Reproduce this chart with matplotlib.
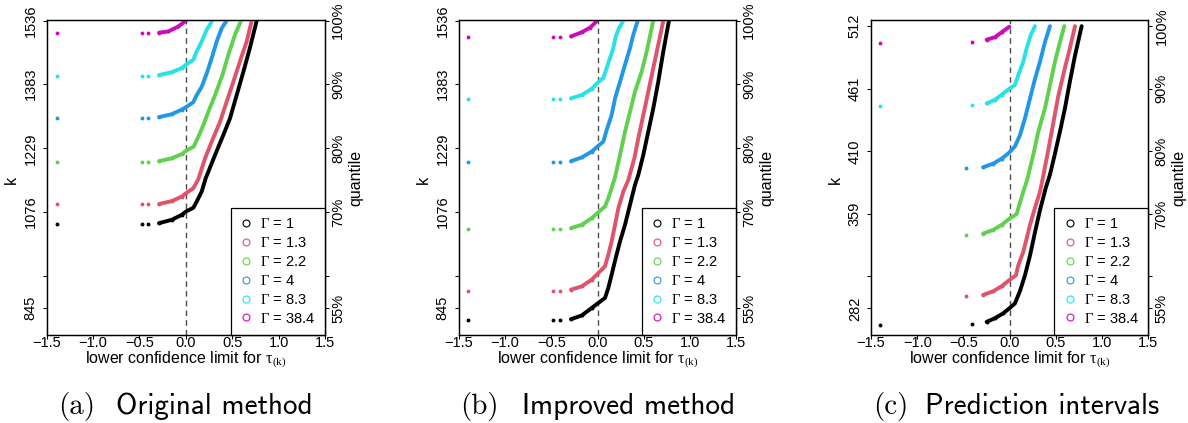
"""Three panels: lower confidence limit for tau_(k) against k, for several Gamma."""

import matplotlib
matplotlib.use("Agg")
import matplotlib.pyplot as plt
from matplotlib.lines import Line2D

plt.rcParams["font.family"] = ["Liberation Sans", "DejaVu Sans"]
plt.rcParams["mathtext.fontset"] = "custom"
plt.rcParams["mathtext.rm"] = "Liberation Serif"
plt.rcParams["mathtext.it"] = "Liberation Serif:italic"
plt.rcParams["mathtext.default"] = "rm"

# ---- data ----
gamma_labels = ["1", "1.3", "2.2", "4", "8.3", "38.4"]

# (a) original method, n = 1536
orig_x = [
    [-0.289, -0.152, -0.044, 0.002, 0.081, 0.117, 0.171, 0.214, 0.315, 0.404, 0.476, 0.548, 0.62, 0.69, 0.764],
    [-0.289, -0.152, -0.044, 0.002, 0.081, 0.135, 0.207, 0.279, 0.369, 0.44, 0.512, 0.595, 0.656, 0.71],
    [-0.289, -0.152, -0.044, 0.002, 0.085, 0.135, 0.189, 0.243, 0.315, 0.394, 0.458, 0.53, 0.595],
    [-0.289, -0.152, -0.044, 0.01, 0.081, 0.117, 0.171, 0.225, 0.279, 0.333, 0.387, 0.44],
    [-0.289, -0.152, -0.044, 0.002, 0.081, 0.117, 0.171, 0.225, 0.286],
    [-0.289, -0.188, -0.08, 0.002],
]
orig_k = [
    [1049, 1057, 1069, 1077, 1086, 1101, 1125, 1157, 1213, 1261, 1301, 1357, 1413, 1470, 1536],
    [1095, 1102, 1113, 1121, 1133, 1155, 1205, 1245, 1293, 1341, 1389, 1446, 1486, 1536],
    [1198, 1205, 1215, 1223, 1233, 1257, 1285, 1317, 1357, 1405, 1454, 1502, 1536],
    [1304, 1311, 1322, 1329, 1340, 1357, 1377, 1409, 1446, 1486, 1518, 1536],
    [1405, 1412, 1422, 1430, 1442, 1462, 1486, 1514, 1536],
    [1507, 1510, 1522, 1536],
]
orig_iso_x = [
    [-1.39, -0.475, -0.404],
    [-1.39, -0.475, -0.404],
    [-1.39, -0.475, -0.404],
    [-1.39, -0.475, -0.404],
    [-1.39, -0.475, -0.404],
    [-1.39, -0.475, -0.404],
]
orig_iso_k = [
    [1048, 1048, 1048],
    [1094, 1094, 1094],
    [1196, 1196, 1196],
    [1302, 1302, 1302],
    [1404, 1404, 1404],
    [1506, 1506, 1506],
]

# (b) improved method, n = 1536
impr_x = [
    [-0.287, -0.171, -0.063, 0.009, 0.081, 0.117, 0.153, 0.197, 0.244, 0.298, 0.352, 0.406, 0.442, 0.496, 0.55, 0.604, 0.658, 0.713, 0.774],
    [-0.287, -0.171, -0.063, 0.009, 0.081, 0.117, 0.153, 0.19, 0.226, 0.28, 0.334, 0.399, 0.442, 0.496, 0.55, 0.604, 0.658, 0.713],
    [-0.287, -0.171, -0.063, -0.002, 0.081, 0.117, 0.153, 0.19, 0.244, 0.298, 0.352, 0.406, 0.478, 0.533, 0.579, 0.604],
    [-0.287, -0.171, -0.063, 0.009, 0.063, 0.099, 0.153, 0.19, 0.244, 0.298, 0.352, 0.388, 0.435],
    [-0.287, -0.171, -0.063, -0.002, 0.063, 0.099, 0.135, 0.171, 0.197, 0.233, 0.28],
    [-0.287, -0.171, -0.081, -0.002],
]
impr_k = [
    [818, 827, 845, 857, 869, 893, 925, 965, 1005, 1045, 1093, 1141, 1165, 1213, 1269, 1325, 1389, 1462, 1536],
    [889, 897, 913, 929, 945, 973, 1005, 1045, 1085, 1125, 1153, 1205, 1253, 1309, 1365, 1422, 1478, 1536],
    [1037, 1045, 1061, 1073, 1089, 1109, 1133, 1160, 1213, 1269, 1317, 1365, 1413, 1462, 1510, 1536],
    [1198, 1207, 1221, 1235, 1245, 1273, 1309, 1349, 1389, 1430, 1470, 1502, 1536],
    [1349, 1357, 1372, 1386, 1398, 1422, 1446, 1470, 1498, 1518, 1536],
    [1498, 1508, 1519, 1536],
]
impr_iso_x = [
    [-1.40, -0.479, -0.406],
    [-1.40, -0.479, -0.406],
    [-1.40, -0.479, -0.406],
    [-1.40, -0.479, -0.406],
    [-1.40, -0.479, -0.406],
    [-1.40, -0.479, -0.406],
]
impr_iso_k = [
    [815, 816, 816],
    [886, 886, 886],
    [1034, 1035, 1035],
    [1196, 1197, 1197],
    [1347, 1348, 1348],
    [1496, 1496, 1496],
]

# (c) prediction intervals, n = 512
pred_x = [
    [-0.249, -0.159, -0.069, -0.004, 0.057, 0.111, 0.166, 0.22, 0.274, 0.328, 0.39, 0.436, 0.49, 0.544, 0.598, 0.652, 0.707, 0.779],
    [-0.286, -0.177, -0.087, -0.004, 0.068, 0.093, 0.147, 0.184, 0.22, 0.274, 0.328, 0.364, 0.418, 0.472, 0.526, 0.598, 0.652, 0.707],
    [-0.286, -0.177, -0.087, -0.004, 0.076, 0.111, 0.147, 0.19, 0.255, 0.31, 0.382, 0.436, 0.49, 0.544, 0.591],
    [-0.286, -0.177, -0.087, -0.004, 0.057, 0.111, 0.166, 0.22, 0.274, 0.328, 0.382, 0.436],
    [-0.249, -0.159, -0.087, -0.004, 0.057, 0.093, 0.147, 0.184, 0.23, 0.274],
    [-0.249, -0.159, -0.087, -0.004],
]
pred_k = [
    [271, 274, 278, 282, 286, 296, 309, 325, 344, 362, 380, 391, 408, 426, 445, 467, 488, 512],
    [293, 296, 300, 305, 309, 317, 328, 339, 350, 364, 377, 390, 411, 433, 455, 478, 494, 512],
    [343, 346, 350, 355, 359, 368, 377, 387, 407, 426, 445, 464, 483, 499, 512],
    [397, 400, 404, 409, 414, 423, 437, 453, 469, 483, 499, 512],
    [449, 452, 456, 461, 464, 472, 483, 494, 505, 512],
    [501, 503, 507, 511.5],
]
pred_iso_x = [
    [-1.40, -0.405],
    [-0.473],
    [-0.473],
    [-0.473],
    [-1.40, -0.405],
    [-1.40, -0.405],
]
pred_iso_k = [
    [268.5, 269],
    [292],
    [342],
    [396],
    [447, 448],
    [498, 499],
]

big_ticks = [845, 922, 1076, 1229, 1383, 1536]
big_tick_labels = ["845", "", "1076", "1229", "1383", "1536"]
small_ticks = [282, 308, 359, 410, 461, 512]
small_tick_labels = ["282", "", "359", "410", "461", "512"]
quantile_labels = ["55%", "", "70%", "80%", "90%", "100%"]
x_ticks = [-1.5, -1.0, -0.5, 0.0, 0.5, 1.0, 1.5]

# ---- styles ----
colors = ["#000000", "#DF536B", "#61D04F", "#2297E6", "#28E2E5", "#CD0BBC"]
W, H = 1188, 423


def draw_panel(rect, curve_x, curve_k, iso_x, iso_k, ticks, tick_labels, ylim):
    ax = fig.add_axes(rect)
    ax.axvline(0, color="0.3", lw=1.0, ls=(0, (4, 3)), zorder=1)
    for cx, ck, ix, ik, col in zip(curve_x, curve_k, iso_x, iso_k, colors):
        ax.plot(cx, ck, color=col, lw=2.8, solid_capstyle="round", zorder=3)
        ax.plot(cx[:3], ck[:3], "o", color=col, ms=2.8, mew=0, zorder=3)
        ax.plot(ix, ik, "o", color=col, ms=2.8, mew=0, zorder=3)
    ax.set_xlim(-1.5, 1.5)
    ax.set_ylim(*ylim)
    ax.set_xticks(x_ticks)
    ax.set_xticklabels([f"{v:.1f}".replace("-", "\u2212") for v in x_ticks])
    ax.set_yticks(ticks)
    ax.set_yticklabels(tick_labels, rotation=90, va="center")
    ax.tick_params(axis="x", direction="out", length=3, width=0.75, pad=-2.3, labelsize=10.5)
    ax.tick_params(axis="y", direction="out", length=3, width=0.75, pad=3.6, labelsize=10.5)
    for s in ax.spines.values():
        s.set_linewidth(0.9)

    rax = ax.twinx()
    rax.set_ylim(*ylim)
    rax.set_yticks(ticks)
    rax.set_yticklabels(quantile_labels, rotation=90, va="center")
    rax.tick_params(axis="y", direction="out", length=3, width=0.75, pad=1.5, labelsize=10.5)
    for s in rax.spines.values():
        s.set_linewidth(0.9)

    ax.text(0.5, -0.078, r"lower confidence limit for $\tau_{(k)}$", transform=ax.transAxes,
            ha="center", va="center", fontsize=11.5)
    ax.text(-0.127, 0.492, "k", transform=ax.transAxes, rotation=90,
            ha="center", va="center", fontsize=11.5)
    ax.text(1.112, 0.498, "quantile", transform=ax.transAxes, rotation=90,
            ha="center", va="center", fontsize=11.5)

    handles = [Line2D([], [], ls="none", marker="o", mfc="none", mec=c, ms=5, mew=0.8)
               for c in colors]
    labels = [r"$\Gamma$ = " + g for g in gamma_labels]
    leg = ax.legend(handles, labels, loc="lower right", bbox_to_anchor=(1, 0),
                    borderaxespad=0, fontsize=10.5, frameon=True, fancybox=False,
                    edgecolor="black", framealpha=1, handlelength=0.8,
                    handletextpad=0.55, borderpad=0.65, labelspacing=0.33)
    leg.get_frame().set_linewidth(0.9)
    leg.set_zorder(5)
    return ax


fig = plt.figure(figsize=(W / 100, H / 100), dpi=100)

bottom = (H - 335) / H
height = (335 - 20) / H
draw_panel([46.7 / W, bottom, 278.3 / W, height], orig_x, orig_k, orig_iso_x, orig_iso_k,
           big_ticks, big_tick_labels, (780, 1537.5))
draw_panel([459 / W, bottom, 277 / W, height], impr_x, impr_k, impr_iso_x, impr_iso_k,
           big_ticks, big_tick_labels, (780, 1537.5))
draw_panel([871 / W, bottom, 277.3 / W, height], pred_x, pred_k, pred_iso_x, pred_iso_k,
           small_ticks, small_tick_labels, (260.3, 517))

# captions
cap_y = (H - 414) / H
for lab_x, txt_x, lab, txt in [(95, 116, "(a)", "Original method"),
                               (499, 522, "(b)", "Improved method"),
                               (908, 925, "(c)", "Prediction intervals")]:
    fig.text(lab_x / W, cap_y, lab, family="cmr10", fontsize=21, ha="right", va="baseline")
    fig.text(txt_x / W, cap_y, txt, family="cmss10", fontsize=21, ha="left", va="baseline")

fig.savefig("out.png", dpi=100)
plt.close(fig)
